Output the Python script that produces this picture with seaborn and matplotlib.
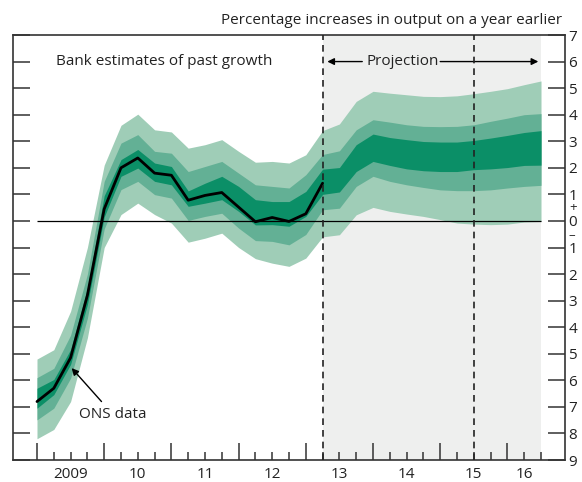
import numpy as np
import pandas as pd
import matplotlib
matplotlib.use("Agg")
import matplotlib.pyplot as plt
import seaborn as sns

# -------------------------------
# DATA (quarterly from 2009 Q1)
# -------------------------------
quarters = [2009 + 0.25 * i for i in range(31)]

ons_line = [-6.8, -6.3, -5.15, -2.8, 0.45, 2.0, 2.37, 1.8, 1.72, 0.78, 0.96, 1.07,
            0.52, -0.03, 0.13, -0.02, 0.27, 1.42]

light_hi = [-5.2, -4.85, -3.4, -1.0, 2.1, 3.6, 4.02, 3.43, 3.35, 2.74, 2.87, 3.06,
            2.62, 2.21, 2.24, 2.18, 2.49, 3.4, 3.65, 4.5, 4.88, 4.81, 4.75, 4.69,
            4.68, 4.71, 4.79, 4.88, 4.98, 5.13, 5.27]
med_hi = [-5.9, -5.55, -4.3, -2.0, 1.49, 2.93, 3.25, 2.62, 2.55, 1.86, 2.05, 2.24,
          1.8, 1.36, 1.3, 1.24, 1.74, 2.5, 2.64, 3.43, 3.81, 3.72, 3.62, 3.56,
          3.55, 3.56, 3.62, 3.75, 3.87, 4.0, 4.04]
dark_hi = [-6.3, -5.97, -4.84, -2.53, 0.95, 2.31, 2.69, 2.18, 2.05, 1.13, 1.42, 1.68,
           1.3, 0.8, 0.73, 0.73, 1.11, 1.95, 2.01, 2.87, 3.27, 3.14, 3.06, 2.99,
           2.97, 2.97, 3.03, 3.12, 3.22, 3.33, 3.4]
dark_lo = [-7.05, -6.54, -5.4, -3.15, 0.15, 1.68, 1.99, 1.49, 1.36, 0.55, 0.67, 0.8,
           0.36, -0.15, -0.14, -0.2, 0.17, 1.0, 1.09, 1.86, 2.24, 2.09, 1.96, 1.89,
           1.86, 1.86, 1.93, 1.96, 2.01, 2.09, 2.1]
med_lo = [-7.49, -7.05, -5.92, -3.66, -0.3, 1.18, 1.49, 0.99, 0.86, 0.02, 0.17, 0.29,
          -0.27, -0.74, -0.77, -0.9, -0.51, 0.42, 0.48, 1.3, 1.68, 1.49, 1.36, 1.26,
          1.17, 1.14, 1.14, 1.17, 1.24, 1.3, 1.34]
light_lo = [-8.2, -7.85, -6.8, -4.4, -1.0, 0.24, 0.67, 0.24, -0.08, -0.8, -0.65, -0.46,
            -1.0, -1.42, -1.59, -1.71, -1.4, -0.6, -0.52, 0.23, 0.51, 0.36, 0.26, 0.17,
            0.05, -0.08, -0.12, -0.14, -0.12, -0.04, -0.02]

year_labels = ["2009", "10", "11", "12", "13", "14", "15", "16"]
year_label_pos = [2009.5, 2010.5, 2011.5, 2012.5, 2013.5, 2014.5, 2015.5, 2016.25]
y_ticks = list(range(-9, 8))

proj_start = 2013.25
proj_mark = 2015.5
fan_end = 2016.5

# -------------------------------
# STYLE
# -------------------------------
sns.set_style("ticks")
plt.rcParams["font.family"] = ["Open Sans", "DejaVu Sans"]
plt.rcParams["font.size"] = 11

light_c = "#9fcdb7"
med_c = "#63b095"
dark_c = "#0b8f67"
txt_c = "#222222"

fig = plt.figure(figsize=(5.82, 4.82), dpi=100)
ax = fig.add_axes([13 / 582, 1 - 460 / 482, (565 - 13) / 582, (460 - 35) / 482])

# projection background
ax.axvspan(proj_start, fan_end, color="#eeefee", lw=0, zorder=0)

# fan bands
ax.fill_between(quarters, light_lo, light_hi, color=light_c, lw=0, zorder=1)
ax.fill_between(quarters, med_lo, med_hi, color=med_c, lw=0, zorder=2)
ax.fill_between(quarters, dark_lo, dark_hi, color=dark_c, lw=0, zorder=3)

# zero line
ax.hlines(0, quarters[0], fan_end, color="black", lw=0.9, zorder=4)

# ONS data line
df_line = pd.DataFrame({"t": quarters[:len(ons_line)], "g": ons_line})
sns.lineplot(data=df_line, x="t", y="g", color="black", lw=2.0, ax=ax, zorder=5)

# dashed projection markers
for xv in [proj_start, proj_mark]:
    ax.axvline(xv, color="#222222", lw=1.2, ls=(0, (4, 3)), zorder=6)

ax.set_xlim(2008.643, 2016.857)
ax.set_ylim(-9, 7)
ax.set_xlabel("")
ax.set_ylabel("")

# axes frame
for s in ax.spines.values():
    s.set_visible(True)
    s.set_linewidth(1.2)
    s.set_color("#333333")

# x ticks: quarters, longer at year starts
ax.set_xticks(list(range(2009, 2017)))
ax.set_xticks([q for q in quarters if q % 1 != 0], minor=True)
ax.tick_params(axis="x", which="major", direction="in", length=12.5, width=1.1,
               labelbottom=False, color="#333333")
ax.tick_params(axis="x", which="minor", direction="in", length=6, width=1.1,
               color="#333333")
for lab, xp in zip(year_labels, year_label_pos):
    ax.text(xp, -0.034, lab, transform=ax.get_xaxis_transform(),
            ha="center", va="center", color=txt_c)

# y ticks both sides, labels on right as absolute values
ax.set_yticks(y_ticks)
ax.set_yticklabels([str(abs(v)) for v in y_ticks])
ax.tick_params(axis="y", which="major", direction="in", length=12.5, width=1.1,
               left=True, right=True, labelleft=False, labelright=True, pad=2.5,
               labelsize=11, color="#333333", labelcolor=txt_c)
ax.text(1.007, 0.5, "+", transform=ax.get_yaxis_transform(), ha="left", va="center",
        fontsize=9.5, color=txt_c)
ax.text(1.007, -0.56, "\u2013", transform=ax.get_yaxis_transform(), ha="left", va="center",
        fontsize=9.5, color=txt_c)

# annotations
ax.text(2009.28, 6, "Bank estimates of past growth", ha="left", va="center", color=txt_c)
ax.annotate("", xy=(proj_start + 0.07, 6), xytext=(2013.84, 6),
            arrowprops=dict(arrowstyle="-|>", color="black", lw=1.0,
                            mutation_scale=10, shrinkA=0, shrinkB=0))
ax.text(2014.44, 6, "Projection", ha="center", va="center", color=txt_c)
ax.annotate("", xy=(fan_end - 0.04, 6), xytext=(2015.0, 6),
            arrowprops=dict(arrowstyle="-|>", color="black", lw=1.0,
                            mutation_scale=10, shrinkA=0, shrinkB=0))
ax.annotate("", xy=(2009.516, -5.54), xytext=(2009.96, -6.8),
            arrowprops=dict(arrowstyle="-|>", color="black", lw=1.0,
                            mutation_scale=10, shrinkA=0, shrinkB=0))
ax.text(2009.62, -7.29, "ONS data", ha="left", va="center", color=txt_c)

fig.text(562 / 582, 1 - 21 / 482, "Percentage increases in output on a year earlier",
         ha="right", va="center", color=txt_c)

fig.savefig("out.png", dpi=100)
